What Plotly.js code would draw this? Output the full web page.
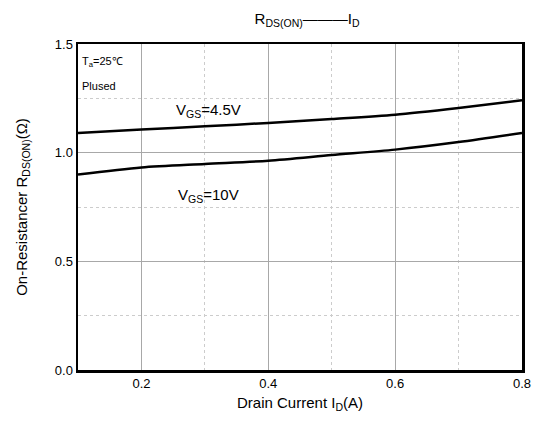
<!DOCTYPE html>
<html>
<head>
<meta charset="utf-8">
<script src="https://cdn.plot.ly/plotly-3.0.1.min.js"></script>
<style>html,body{margin:0;padding:0;background:#fff;}#chart{width:535px;height:421px;}</style>
</head>
<body>
<div id="chart"></div>
<script>
const currentA = [0.1, 0.2, 0.3, 0.4, 0.5, 0.6, 0.7, 0.8];
const rdsVgs45 = [1.091, 1.107, 1.121, 1.137, 1.155, 1.175, 1.206, 1.241];
const rdsVgs10 = [0.899, 0.932, 0.948, 0.963, 0.989, 1.014, 1.049, 1.091];
const xTicks = [0.2, 0.4, 0.6, 0.8];
const yTicks = [0.0, 0.5, 1.0, 1.5];

const font = 'Liberation Sans, Arial, sans-serif';
const lineStyle = {color: '#000', width: 2.5, shape: 'spline', smoothing: 0.8};

const traces = [
  {x: currentA, y: rdsVgs45, mode: 'lines', line: lineStyle, name: 'VGS=4.5V', hoverinfo: 'skip'},
  {x: currentA, y: rdsVgs10, mode: 'lines', line: lineStyle, name: 'VGS=10V', hoverinfo: 'skip'}
];

const layout = {
  width: 535, height: 421,
  margin: {l: 78, r: 13, t: 44, b: 51},
  paper_bgcolor: '#fff', plot_bgcolor: '#fff',
  showlegend: false,
  font: {family: font, color: '#000', size: 13},
  title: {text: 'R<sub>DS(ON)</sub>———I<sub>D</sub>', x: 0.574, xanchor: 'center', y: 0.955, yanchor: 'middle', font: {size: 15, family: font}},
  xaxis: {
    range: [0.1, 0.8], tickvals: xTicks, ticktext: xTicks.map(v => v.toFixed(1)),
    showgrid: true, gridcolor: '#a8a8a8', gridwidth: 1,
    minor: {tick0: 0.1, dtick: 0.1, showgrid: true, gridcolor: '#cccccc', griddash: 'dot', gridwidth: 1},
    showline: true, mirror: true, linecolor: '#000', linewidth: 2.5,
    ticks: '', zeroline: false, tickfont: {size: 13}, ticklen: 0,
    title: {text: 'Drain Current I<sub>D</sub>(A)', font: {size: 15}, standoff: 8}
  },
  yaxis: {
    range: [0, 1.5], tickvals: yTicks, ticktext: yTicks.map(v => v.toFixed(1)),
    showgrid: true, gridcolor: '#a8a8a8', gridwidth: 1,
    minor: {tick0: 0, dtick: 0.25, showgrid: true, gridcolor: '#cccccc', griddash: 'dot', gridwidth: 1},
    showline: true, mirror: true, linecolor: '#000', linewidth: 2.5,
    ticks: '', zeroline: false, tickfont: {size: 13},
    title: {text: 'On-Resistancer R<sub>DS(ON)</sub>(Ω)', font: {size: 15}, standoff: 24}
  },
  annotations: [
    {xref: 'paper', yref: 'paper', x: 0.005, y: 0.945, xanchor: 'left', yanchor: 'middle', text: 'T<sub>a</sub>=25℃', showarrow: false, font: {size: 11}},
    {xref: 'paper', yref: 'paper', x: 0.005, y: 0.87, xanchor: 'left', yanchor: 'middle', text: 'Plused', showarrow: false, font: {size: 11}},
    {xref: 'x', yref: 'y', x: 0.305, y: 1.195, xanchor: 'center', yanchor: 'middle', text: 'V<sub>GS</sub>=4.5V', showarrow: false, font: {size: 15}},
    {xref: 'x', yref: 'y', x: 0.305, y: 0.805, xanchor: 'center', yanchor: 'middle', text: 'V<sub>GS</sub>=10V', showarrow: false, font: {size: 15}}
  ]
};

Plotly.newPlot('chart', traces, layout, {staticPlot: true, displayModeBar: false});
</script>
</body>
</html>
